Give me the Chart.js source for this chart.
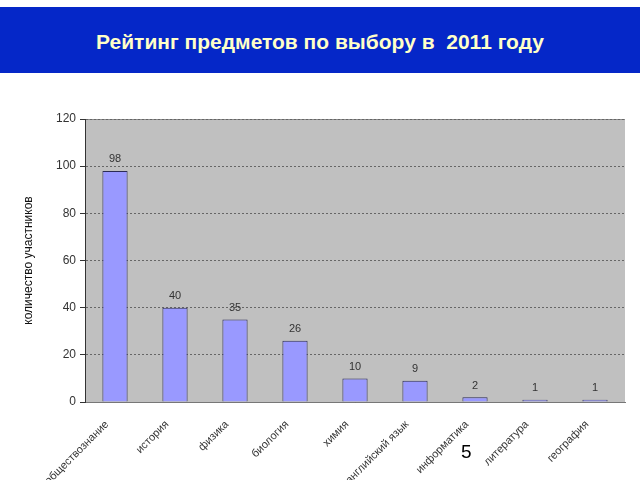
<!DOCTYPE html>
<html>
<head>
<meta charset="utf-8">
<script src="https://cdn.jsdelivr.net/npm/chart.js@4"></script>
<style>
  body { margin: 0; width: 640px; height: 480px; background: #fff; position: relative; overflow: hidden; font-family: "Liberation Sans", Arial, sans-serif; }
  #header { position: absolute; left: 0; top: 7px; width: 640px; height: 66px; background: #0527c8; }
  #title { position: absolute; left: 0; top: 30px; width: 640px; text-align: center; color: #ffffc8; font-weight: bold; font-size: 21px; white-space: pre; }
  #page { position: absolute; left: 461px; top: 441px; font-size: 19px; color: #000; }
  #wrap { position: absolute; left: 0; top: 80px; width: 640px; height: 400px; }
</style>
</head>
<body>
<div id="header"></div>
<div id="title">Рейтинг предметов по выбору в  2011 году</div>
<div id="wrap"><canvas id="chart" width="640" height="400"></canvas></div>
<div id="page">5</div>
<script>
var subjects = ['обществознание', 'история', 'физика', 'биология', 'химия', 'английский язык', 'информатика', 'литература', 'география'];
var counts = [98, 40, 35, 26, 10, 9, 2, 1, 1];
var yTicks = [0, 20, 40, 60, 80, 100, 120];

var plotBg = {
    id: 'plotBg',
    beforeDraw: function(chart) {
        var a = chart.chartArea;
        var ctx = chart.ctx;
        ctx.save();
        ctx.fillStyle = '#c0c0c0';
        ctx.fillRect(a.left, a.top, a.right - a.left, a.bottom - a.top);
        ctx.strokeStyle = '#8a8a8a';
        ctx.lineWidth = 1;
        ctx.beginPath();
        ctx.moveTo(a.left, a.top + 0.5);
        ctx.lineTo(a.right, a.top + 0.5);
        ctx.stroke();
        ctx.restore();
    }
};

var valueLabels = {
    id: 'valueLabels',
    afterDatasetsDraw: function(chart) {
        var ctx = chart.ctx;
        var meta = chart.getDatasetMeta(0);
        ctx.save();
        ctx.font = '11px "Liberation Sans", Arial, sans-serif';
        ctx.fillStyle = '#333';
        ctx.textAlign = 'center';
        ctx.textBaseline = 'bottom';
        meta.data.forEach(function(bar, i) {
            ctx.fillText(counts[i], bar.x, bar.y - 6);
        });
        ctx.restore();
    }
};

var ctx = document.getElementById('chart').getContext('2d');
var chart = new Chart(ctx, {
    type: 'bar',
    data: {
        labels: subjects,
        datasets: [{
            data: counts,
            backgroundColor: '#9999ff',
            borderColor: '#2b2b55',
            borderWidth: 1,
            categoryPercentage: 1,
            barPercentage: 0.42
        }]
    },
    options: {
        responsive: false,
        animation: false,
        layout: { padding: { top: 39, right: 15, left: 0, bottom: 0 } },
        plugins: { legend: { display: false }, tooltip: { enabled: false } },
        scales: {
            x: {
                grid: { display: false, drawTicks: false },
                border: { color: '#777', width: 1 },
                ticks: {
                    minRotation: 45, maxRotation: 45, autoSkip: false,
                    color: '#333', padding: 16, labelOffset: -8,
                    font: { size: 11, family: '"Liberation Sans", Arial, sans-serif' }
                },
                afterFit: function(scale) { scale.height = 78; }
            },
            y: {
                min: 0, max: 120,
                afterBuildTicks: function(scale) {
                    scale.ticks = yTicks.map(function(v) { return { value: v }; });
                },
                grid: { color: '#666', tickLength: 5, tickColor: '#333', drawOnChartArea: true },
                border: { color: '#333', width: 1, dash: [2, 2], display: true },
                ticks: {
                    color: '#333', padding: 4,
                    font: { size: 12, family: '"Liberation Sans", Arial, sans-serif' }
                },
                title: {
                    display: true, text: 'количество участников', color: '#111',
                    font: { size: 12, family: '"Liberation Sans", Arial, sans-serif' },
                    padding: { top: 21, bottom: 0 }
                },
                afterFit: function(scale) { scale.width = 85; }
            }
        }
    },
    plugins: [plotBg, valueLabels]
});
</script>
</body>
</html>
